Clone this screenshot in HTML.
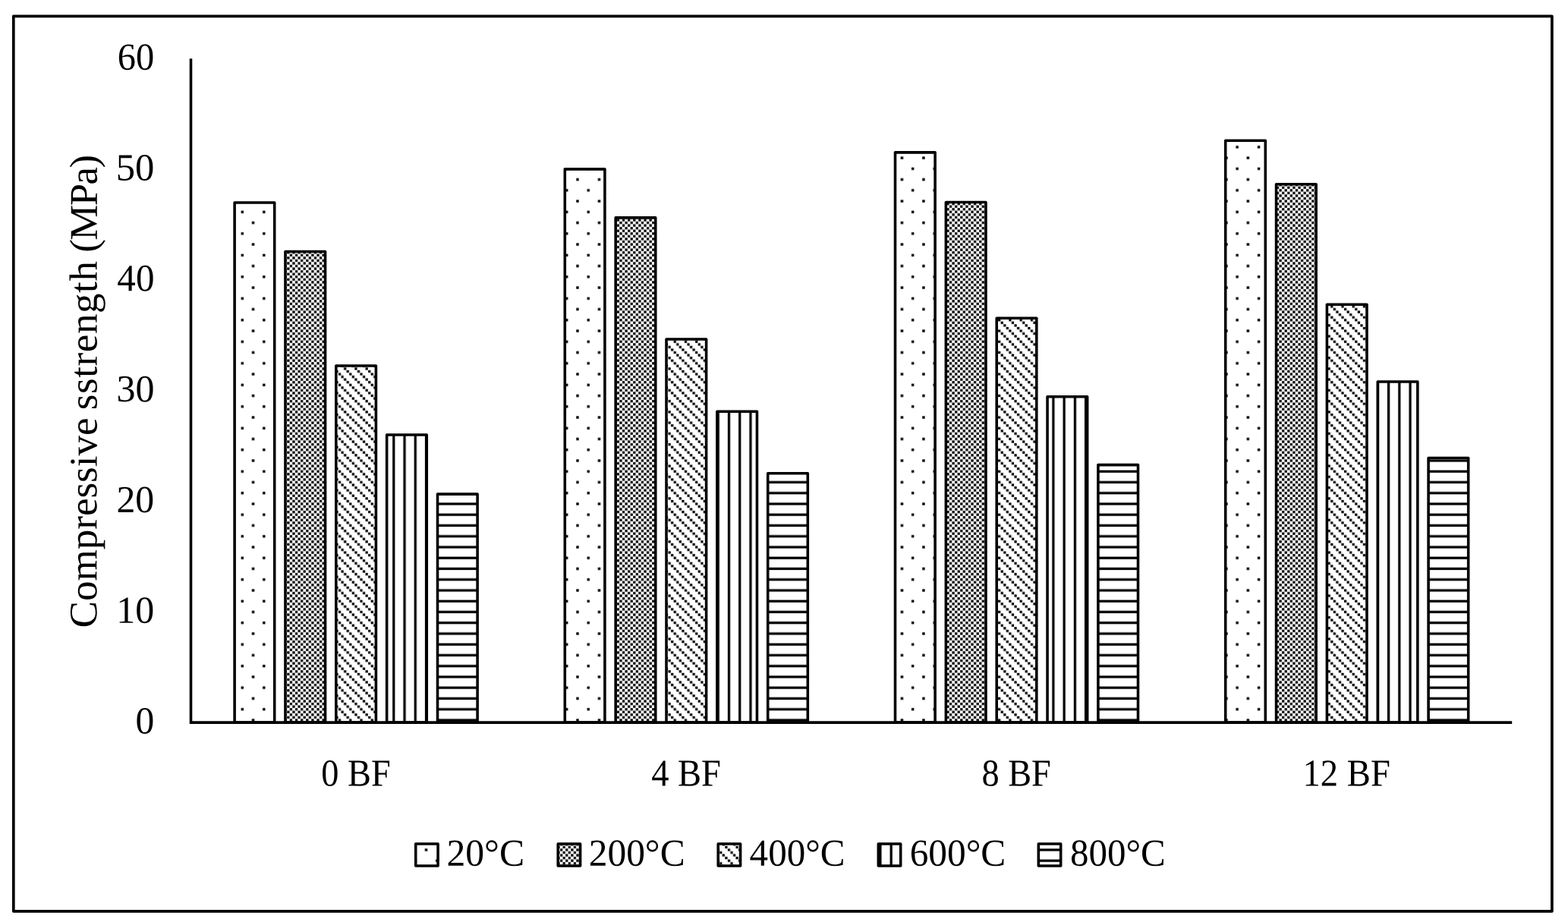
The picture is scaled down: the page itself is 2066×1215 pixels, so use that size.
<!DOCTYPE html>
<html lang="en"><head><meta charset="utf-8"><title>Compressive strength chart</title>
<style>
html,body{margin:0;padding:0;background:#fff;}
body{width:2066px;height:1215px;position:relative;}
svg{display:block;position:absolute;left:0;top:0;}
text{font-family:"Liberation Serif",serif;fill:#000;text-rendering:geometricPrecision;}
.bar{fill:none;stroke:#000;stroke-width:3.56;stroke-linejoin:round;}
</style></head><body>
<svg width="2066" height="1215" viewBox="0 0 2066 1215" role="img" aria-label="Compressive strength (MPa) of 0, 4, 8 and 12 BF mixes at 20, 200, 400, 600 and 800 degrees C">
<defs>
<pattern id="p05" width="8" height="8" patternUnits="userSpaceOnUse" patternTransform="translate(0.5 -0.3) scale(3.562)"><rect width="8" height="8" fill="#fff"/><rect x="1.02" y="6.02" width="0.96" height="0.96"/><rect x="5.02" y="2.02" width="0.96" height="0.96"/></pattern>
<pattern id="p50" width="2" height="2" patternUnits="userSpaceOnUse" patternTransform="translate(0.5 -0.3) scale(3.562)"><rect width="2" height="2" fill="#fff"/><rect x="1.045" y="0.045" width="0.91" height="0.91"/><rect x="0.045" y="1.045" width="0.91" height="0.91"/></pattern>
<pattern id="pdd" width="4" height="4" patternUnits="userSpaceOnUse" patternTransform="translate(0.5 -0.3) scale(3.562)"><rect width="4" height="4" fill="#fff"/><rect x="3.045" y="0.045" width="0.91" height="0.91"/><rect x="0.045" y="1.045" width="0.91" height="0.91"/><rect x="1.045" y="2.045" width="0.91" height="0.91"/><rect x="2.045" y="3.045" width="0.91" height="0.91"/></pattern>
<pattern id="pvt" width="4" height="4" patternUnits="userSpaceOnUse" patternTransform="translate(0.5 -0.3) scale(3.562)"><rect width="4" height="4" fill="#fff"/><rect x="1.04" y="0" width="0.92" height="4"/></pattern>
<pattern id="phz" width="4" height="4" patternUnits="userSpaceOnUse" patternTransform="translate(0.5 -0.3) scale(3.562)"><rect width="4" height="4" fill="#fff"/><rect x="0" y="2.04" width="4" height="0.92"/></pattern>
</defs>
<rect x="0" y="0" width="2066" height="1215" fill="#fff"/>
<rect x="17.8" y="21.3" width="2027.1" height="1179.5" fill="#fff" stroke="#000" stroke-width="3.7" stroke-linejoin="round"/>
<g id="fills">
<rect x="309.1" y="267.08" width="52.6" height="685.02" fill="url(#p05)"/>
<rect x="375.95" y="331.57" width="52.6" height="620.53" fill="url(#p50)"/>
<rect x="442.8" y="482" width="52.6" height="470.1" fill="url(#pdd)"/>
<rect x="509.65" y="573.06" width="52.6" height="379.04" fill="url(#pvt)"/>
<rect x="576.5" y="651.15" width="52.6" height="300.95" fill="url(#phz)"/>
<rect x="744.3" y="222.9" width="52.6" height="729.2" fill="url(#p05)"/>
<rect x="811.15" y="286.9" width="52.6" height="665.2" fill="url(#p50)"/>
<rect x="878" y="447" width="52.6" height="505.1" fill="url(#pdd)"/>
<rect x="944.85" y="542.26" width="52.6" height="409.84" fill="url(#pvt)"/>
<rect x="1011.7" y="623.83" width="52.6" height="328.27" fill="url(#phz)"/>
<rect x="1179.5" y="200.85" width="52.6" height="751.25" fill="url(#p05)"/>
<rect x="1246.35" y="266.57" width="52.6" height="685.53" fill="url(#p50)"/>
<rect x="1313.2" y="419.2" width="52.6" height="532.9" fill="url(#pdd)"/>
<rect x="1380.05" y="522.7" width="52.6" height="429.4" fill="url(#pvt)"/>
<rect x="1446.9" y="612.6" width="52.6" height="339.5" fill="url(#phz)"/>
<rect x="1614.7" y="185.2" width="52.6" height="766.9" fill="url(#p05)"/>
<rect x="1681.55" y="242.7" width="52.6" height="709.4" fill="url(#p50)"/>
<rect x="1748.4" y="401.2" width="52.6" height="550.9" fill="url(#pdd)"/>
<rect x="1815.25" y="502.94" width="52.6" height="449.16" fill="url(#pvt)"/>
<rect x="1882.1" y="603.5" width="52.6" height="348.6" fill="url(#phz)"/>
<rect x="547.725" y="1112" width="29.35" height="29" fill="url(#p05)"/>
<rect x="735.225" y="1112" width="29.35" height="29" fill="url(#p50)"/>
<rect x="946.225" y="1112" width="29.35" height="29" fill="url(#pdd)"/>
<rect x="1157.325" y="1112" width="29.35" height="29" fill="url(#pvt)"/>
<rect x="1368.325" y="1112" width="29.35" height="29" fill="url(#phz)"/>
</g>
<g id="bars">
<rect class="bar" x="309.1" y="267.08" width="52.6" height="685.02"/>
<rect class="bar" x="375.95" y="331.57" width="52.6" height="620.53"/>
<rect class="bar" x="442.8" y="482" width="52.6" height="470.1"/>
<rect class="bar" x="509.65" y="573.06" width="52.6" height="379.04"/>
<rect class="bar" x="576.5" y="651.15" width="52.6" height="300.95"/>
<rect class="bar" x="744.3" y="222.9" width="52.6" height="729.2"/>
<rect class="bar" x="811.15" y="286.9" width="52.6" height="665.2"/>
<rect class="bar" x="878" y="447" width="52.6" height="505.1"/>
<rect class="bar" x="944.85" y="542.26" width="52.6" height="409.84"/>
<rect class="bar" x="1011.7" y="623.83" width="52.6" height="328.27"/>
<rect class="bar" x="1179.5" y="200.85" width="52.6" height="751.25"/>
<rect class="bar" x="1246.35" y="266.57" width="52.6" height="685.53"/>
<rect class="bar" x="1313.2" y="419.2" width="52.6" height="532.9"/>
<rect class="bar" x="1380.05" y="522.7" width="52.6" height="429.4"/>
<rect class="bar" x="1446.9" y="612.6" width="52.6" height="339.5"/>
<rect class="bar" x="1614.7" y="185.2" width="52.6" height="766.9"/>
<rect class="bar" x="1681.55" y="242.7" width="52.6" height="709.4"/>
<rect class="bar" x="1748.4" y="401.2" width="52.6" height="550.9"/>
<rect class="bar" x="1815.25" y="502.94" width="52.6" height="449.16"/>
<rect class="bar" x="1882.1" y="603.5" width="52.6" height="348.6"/>
</g>
<path d="M251.5 77.3V952.1H1992.2" fill="none" stroke="#000" stroke-width="3.56" stroke-linejoin="miter"/>
<g id="legend">
<rect class="bar" x="547.725" y="1112" width="29.35" height="29"/>
<rect class="bar" x="735.225" y="1112" width="29.35" height="29"/>
<rect class="bar" x="946.225" y="1112" width="29.35" height="29"/>
<rect class="bar" x="1157.325" y="1112" width="29.35" height="29"/>
<rect class="bar" x="1368.325" y="1112" width="29.35" height="29"/>
</g>
<g id="ylabels">
<text transform="translate(203.21 966.55) skewY(0.05) scale(0.985 1)" font-size="50.3" text-anchor="end">0</text>
<text transform="translate(203.25 820.75) skewY(0.05) scale(0.994 1)" font-size="50.3" text-anchor="end">10</text>
<text transform="translate(203.23 674.95) skewY(0.05) scale(0.989 1)" font-size="50.3" text-anchor="end">20</text>
<text transform="translate(203.4 529.15) skewY(0.05) scale(0.993 1)" font-size="50.3" text-anchor="end">30</text>
<text transform="translate(203.41 383.35) skewY(0.05) scale(0.975 1)" font-size="50.3" text-anchor="end">40</text>
<text transform="translate(203.36 237.55) skewY(0.05) scale(1.007 1)" font-size="50.3" text-anchor="end">50</text>
<text transform="translate(203.17 91.75) skewY(0.05) scale(0.965 1)" font-size="50.3" text-anchor="end">60</text>
</g>
<g id="xlabels">
<text transform="translate(423.31 1035.5) skewY(0.05) scale(0.92 1)" font-size="50.3" text-anchor="start">0 BF</text>
<text transform="translate(858.18 1035.5) skewY(0.05) scale(0.924 1)" font-size="50.3" text-anchor="start">4 BF</text>
<text transform="translate(1293.54 1035.5) skewY(0.05) scale(0.92 1)" font-size="50.3" text-anchor="start">8 BF</text>
<text transform="translate(1716.54 1035.5) skewY(0.05) scale(0.927 1)" font-size="50.3" text-anchor="start">12 BF</text>
</g>
<g id="legendlabels">
<text transform="translate(588.38 1140.7) skewY(0.05) scale(0.987 1)" font-size="50.3" text-anchor="start">20°C</text>
<text transform="translate(775.71 1140.7) skewY(0.05) scale(0.983 1)" font-size="50.3" text-anchor="start">200°C</text>
<text transform="translate(987.62 1140.7) skewY(0.05) scale(0.975 1)" font-size="50.3" text-anchor="start">400°C</text>
<text transform="translate(1198.71 1140.7) skewY(0.05) scale(0.98 1)" font-size="50.3" text-anchor="start">600°C</text>
<text transform="translate(1410.04 1140.7) skewY(0.05) scale(0.974 1)" font-size="50.3" text-anchor="start">800°C</text>
</g>
<text transform="translate(127.2 825.05) rotate(-90) skewY(0.05) scale(1.02 1)" font-size="52"><tspan x="-2.29" letter-spacing="-0.011">Compressive</tspan> <tspan x="279.28" letter-spacing="0.566">sstrength</tspan> <tspan x="482.7" letter-spacing="-1.636">(MPa)</tspan></text>
</svg>
</body></html>
